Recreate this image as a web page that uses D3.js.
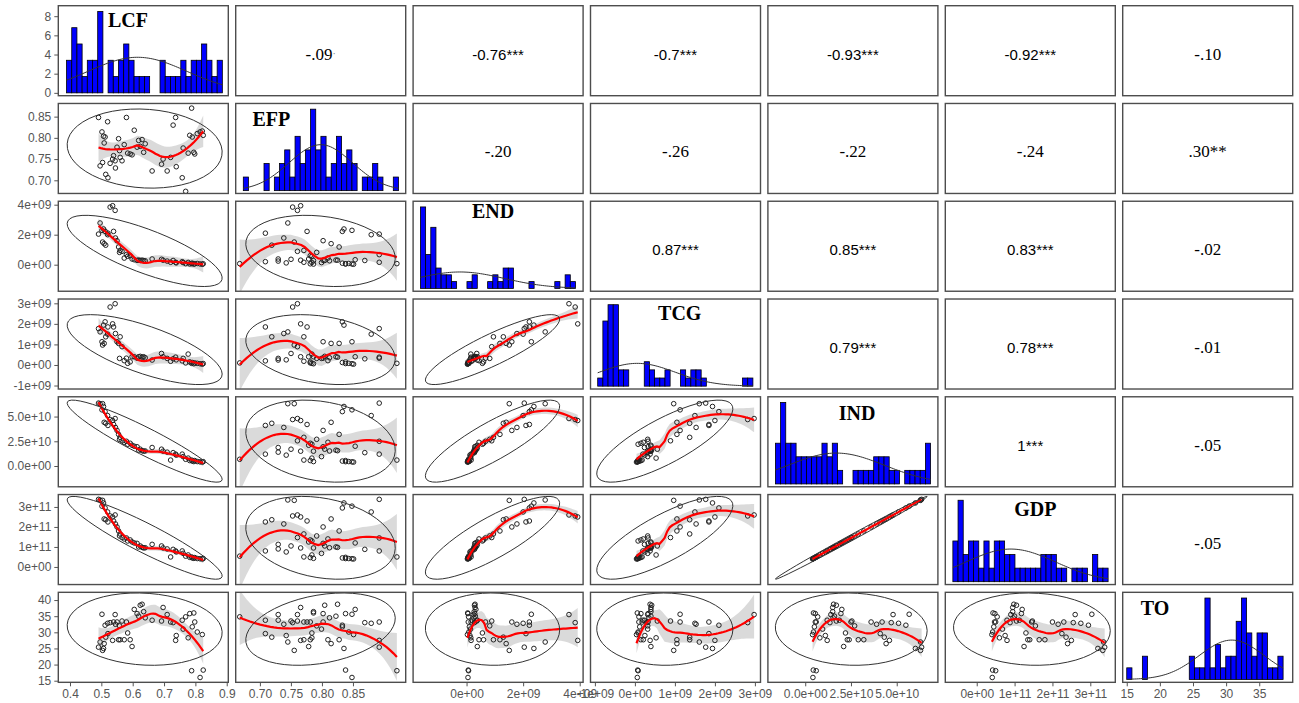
<!DOCTYPE html>
<html>
<head>
<meta charset="utf-8">
<script src="https://cdn.jsdelivr.net/npm/d3@7"></script>
<style>
  body { margin: 0; background: #fff; }
  svg { display: block; }
  .tick text { font-family: "Liberation Sans", Arial, sans-serif; font-size: 12px; fill: #555; }
  .tick line { stroke: #555; }
</style>
</head>
<body>
<svg id="chart"></svg>
<script>
const vars = ['LCF', 'EFP', 'END', 'TCG', 'IND', 'GDP', 'TO'];

// one value per year, rows sorted by LCF
const LCF = [0.491, 0.496, 0.502, 0.504, 0.507, 0.509, 0.512, 0.514, 0.520, 0.521,
  0.528, 0.536, 0.539, 0.544, 0.545, 0.550, 0.555, 0.558, 0.560, 0.566,
  0.573, 0.580, 0.584, 0.592, 0.598, 0.605, 0.614, 0.619, 0.624, 0.630,
  0.635, 0.640, 0.662, 0.692, 0.697, 0.710, 0.721, 0.729, 0.737, 0.739,
  0.758, 0.761, 0.769, 0.777, 0.782, 0.788, 0.790, 0.795, 0.798, 0.806, 0.815, 0.822, 0.825];
const EFP = [0.848, 0.734, 0.814, 0.742, 0.804, 0.788, 0.802, 0.714, 0.838, 0.706,
  0.740, 0.750, 0.758, 0.746, 0.729, 0.778, 0.798, 0.770, 0.754, 0.746,
  0.784, 0.848, 0.764, 0.762, 0.760, 0.818, 0.778, 0.794, 0.780, 0.796,
  0.766, 0.786, 0.722, 0.738, 0.750, 0.722, 0.754, 0.830, 0.848, 0.732,
  0.706, 0.776, 0.674, 0.764, 0.806, 0.870, 0.802, 0.766, 0.762, 0.810, 0.814, 0.816, 0.806];
const END = [2.04e9, 2.78e9, 2.29e9, 1.51e9, 2.38e9, 1.40e9, 2.22e9, 1.30e9, 2.00e9, 2.10e9,
  3.84e9, 3.93e9, 2.22e9, 3.62e9, 1.78e9, 1.60e9, 1.18e9, 0.82e9, 0.95e9, 0.89e9,
  0.44e9, 0.67e9, 0.56e9, 0.60e9, 0.38e9, 0.33e9, 0.29e9, 0.31e9, 0.28e9, 0.30e9,
  0.27e9, 0.26e9, 0.38e9, 0.36e9, 0.30e9, 0.24e9, 0.16e9, 0.28e9, 0.16e9, 0.12e9,
  0.20e9, 0.14e9, 0.07e9, 0.15e9, 0.05e9, 0.07e9, 0.10e9, 0.04e9, 0.06e9, 0.08e9, 0.05e9, 0.03e9, 0.06e9];
const TCG = [1.77e9, 1.61e9, 1.13e9, 0.97e9, 1.94e9, 1.05e9, 2.10e9, 1.37e9, 1.50e9, 1.85e9,
  2.82e9, 2.00e9, 1.85e9, 2.98e9, 1.53e9, 1.13e9, 1.05e9, 0.32e9, 1.37e9, 0.89e9,
  0.21e9, 0.33e9, 0.08e9, 0.15e9, 0.40e9, 0.40e9, 0.33e9, 0.40e9, 0.42e9, 0.38e9,
  0.40e9, 0.35e9, 0.24e9, 0.56e9, 0.40e9, 0.32e9, 0.18e9, 0.30e9, 0.38e9, 0.25e9,
  0.20e9, 0.32e9, 0.10e9, 0.53e9, 0.15e9, 0.08e9, 0.12e9, 0.06e9, 0.10e9, 0.08e9, 0.06e9, 0.04e9, 0.07e9];
const IND = [6.36e10, 6.30e10, 5.68e10, 6.30e10, 6.02e10, 4.42e10, 5.50e10, 4.32e10, 5.10e10, 4.10e10,
  4.70e10, 4.60e10, 4.20e10, 4.80e10, 3.90e10, 3.60e10, 3.20e10, 2.70e10, 2.90e10, 2.55e10,
  2.40e10, 2.50e10, 2.20e10, 2.30e10, 2.10e10, 2.00e10, 1.95e10, 1.60e10, 1.70e10, 1.55e10,
  1.50e10, 1.52e10, 1.87e10, 1.70e10, 1.50e10, 1.40e10, 0.60e10, 1.35e10, 1.20e10, 1.10e10,
  1.20e10, 0.95e10, 0.68e10, 0.80e10, 0.55e10, 0.60e10, 0.50e10, 0.45e10, 0.55e10, 0.45e10, 0.42e10, 0.40e10, 0.44e10];
const GDP = [3.38e11, 3.35e11, 3.04e11, 3.33e11, 3.20e11, 2.40e11, 2.95e11, 2.36e11, 2.75e11, 2.25e11,
  2.55e11, 2.50e11, 2.30e11, 2.60e11, 2.15e11, 2.00e11, 1.80e11, 1.55e11, 1.65e11, 1.47e11,
  1.40e11, 1.45e11, 1.30e11, 1.35e11, 1.25e11, 1.20e11, 1.18e11, 1.00e11, 1.05e11, 0.98e11,
  0.95e11, 0.96e11, 1.13e11, 1.05e11, 0.95e11, 0.90e11, 0.50e11, 0.88e11, 0.80e11, 0.75e11,
  0.80e11, 0.68e11, 0.54e11, 0.60e11, 0.48e11, 0.50e11, 0.45e11, 0.43e11, 0.47e11, 0.42e11, 0.41e11, 0.40e11, 0.42e11];
const TO = [25.4, 27.0, 35.6, 24.4, 25.0, 26.5, 32.2, 28.5, 32.8, 29.6,
  33.0, 27.5, 33.2, 35.5, 32.5, 33.2, 27.7, 32.0, 27.7, 33.5,
  27.7, 33.2, 29.8, 27.7, 25.6, 37.1, 35.8, 35.0, 38.4, 38.7,
  36.4, 34.5, 33.75, 33.5, 37.7, 35.5, 33.2, 33.0, 27.5, 29.0,
  33.75, 31.0, 34.8, 28.3, 35.8, 18.1, 31.7, 36.0, 33.2, 30.1, 16.0, 29.3, 18.3];
const series = [LCF, EFP, END, TCG, IND, GDP, TO];

// diagonal histograms: LCF as density, the others as counts
const histLCF = [3.4, 6.8, 5.1, 1.7, 3.4, 3.4, 8.5, 0, 3.4, 1.7, 3.4, 5.1, 3.4, 1.7, 1.7,
  1.7, 0, 0, 3.4, 1.7, 1.7, 1.7, 3.4, 1.7, 3.4, 3.4, 5.1, 3.4, 1.7, 3.4];
const histEFP = [1, 0, 0, 0, 2, 0, 1, 2, 3, 1, 4, 2, 3, 6, 3, 4, 1, 2, 4, 2, 3, 2, 0, 1, 1, 2, 1, 0, 0, 1];
const histEND = [12, 5, 9, 3, 2, 2, 1, 0, 0, 1, 2, 0, 0, 1, 2, 1, 3, 3, 0, 0, 0, 1, 0, 0, 0, 0, 1, 0, 2, 1];
const histTCG = [1, 8, 10, 10, 2, 2, 0, 0, 0, 3, 2, 1, 1, 2, 0, 0, 2, 1, 2, 2, 1, 0, 0, 0, 0, 0, 0, 0, 1, 1];
const histIND = [3, 6, 3, 3, 2, 2, 2, 2, 2, 3, 2, 3, 1, 0, 0, 1, 1, 1, 1, 2, 2, 2, 1, 1, 0, 1, 1, 1, 1, 3];
const histGDP = [3, 6, 2, 3, 3, 1, 3, 1, 3, 3, 2, 2, 1, 1, 1, 1, 1, 2, 2, 2, 1, 1, 0, 1, 1, 1, 0, 2, 1, 1];
const histTO = [1, 0, 0, 2, 0, 0, 0, 0, 0, 0, 0, 0, 2, 1, 1, 7, 1, 3, 1, 2, 2, 5, 7, 4, 2, 4, 4, 1, 1, 2];
const histBins = [histLCF, histEFP, histEND, histTCG, histIND, histGDP, histTO];
const histRanges = [[0.389, 0.886], [0.6785, 0.872], [-1.63e9, 3.85e9], [-0.93e9, 2.95e9],
  [-1.63e10, 6.85e10], [-0.63e11, 3.47e11], [15.0, 38.6]];

// axis ranges
const xDomains = [[0.3627, 0.905], [0.669, 0.881], [-1.89e9, 4.12e9], [-1.11e9, 3.14e9],
  [-2.04e10, 7.25e10], [-0.83e11, 3.66e11], [14.39, 40.05]];
const yDomains = [null, [0.669, 0.881], [-1.77e9, 4.23e9], [-1.17e9, 3.21e9],
  [-2.1e10, 7.0e10], [-0.88e11, 3.62e11], [14.5, 42.4]];
// the EFP tick labels along the bottom sit on their own spacing
const xAxisDomains = [[0.3627, 0.905], [0.661, 0.935], [-1.89e9, 4.12e9], [-1.11e9, 3.14e9],
  [-2.04e10, 7.25e10], [-0.83e11, 3.66e11], [14.39, 40.05]];
const xTicks = [[0.4, 0.5, 0.6, 0.7, 0.8, 0.9], [0.70, 0.75, 0.80, 0.85], [0, 2e9, 4e9],
  [-1e9, 0, 1e9, 2e9, 3e9], [0, 2.5e10, 5e10], [0, 1e11, 2e11, 3e11], [15, 20, 25, 30, 35]];
const yTicks = [[0, 2, 4, 6, 8], [0.70, 0.75, 0.80, 0.85], [0, 2e9, 4e9],
  [-1e9, 0, 1e9, 2e9, 3e9], [0, 2.5e10, 5e10], [0, 1e11, 2e11, 3e11], [15, 20, 25, 30, 35, 40]];

// upper panels in order (LCF,EFP), (LCF,END) ... (GDP,TO)
const corrR = [-0.09, -0.76, -0.70, -0.93, -0.92, -0.10,
  -0.20, -0.26, -0.22, -0.24, 0.30,
  0.87, 0.85, 0.83, -0.02,
  0.79, 0.78, -0.01,
  0.997, -0.05,
  -0.05];
const corrText = ['-.09', '-0.76', '-0.7', '-0.93', '-0.92', '-.10',
  '-.20', '-.26', '-.22', '-.24', '.30',
  '0.87', '0.85', '0.83', '-.02',
  '0.79', '0.78', '-.01',
  '1', '-.05',
  '-.05'];
const corrStars = ['.', '***', '***', '***', '***', '',
  '', '', '', '', '**',
  '***', '***', '***', '',
  '***', '***', '',
  '***', '',
  ''];

// layout
const size = {w: 1299, h: 703};
const grid = {left: 58.3, top: 5.7, pw: 170, ph: 90, dx: 177.4, dy: 97.77};
const namePos = [[0.41, 21], [0.21, 23], [0.47, 17], [0.525, 21], [0.525, 23], [0.53, 21], [0.19, 23]];
const ELL_K = 2.25;
const sans = '"Liberation Sans", Arial, sans-serif';
const serif = '"Liberation Serif", "Times New Roman", serif';

const sci = dec => v => v.toExponential(dec).replace(/e([+-])(\d)$/, 'e$10$2');
const xFormats = [d3.format('.1f'), d3.format('.2f'), sci(0), sci(0), sci(1), sci(0), d3.format('d')];
const yFormats = [d3.format('d'), d3.format('.2f'), sci(0), sci(0), sci(1), sci(0), d3.format('d')];

const svg = d3.select('#chart').attr('width', size.w).attr('height', size.h);
svg.append('rect').attr('width', size.w).attr('height', size.h).attr('fill', '#fff');
const defs = svg.append('defs');

function invertRow0(m) {
  const [[a, b, c], [d, e, f], [g, h, i]] = m;
  const c0 = e * i - f * h, c1 = -(d * i - f * g), c2 = d * h - e * g;
  const det = a * c0 + b * c1 + c * c2;
  return [c0 / det, -(b * i - c * h) / det, (b * f - c * e) / det];
}

// local quadratic loess with a standard error band
function loess(xs, ys, span) {
  const n = xs.length, q = Math.floor(n * span);
  function weights(x0) {
    const d = xs.map(x => Math.abs(x - x0));
    const h = d.slice().sort((a, b) => a - b)[q - 1] * 1.000001 || 1e-12;
    const w = d.map(v => v < h ? Math.pow(1 - Math.pow(v / h, 3), 3) : 0);
    const u = xs.map(x => (x - x0) / h);
    const A = [[0, 0, 0], [0, 0, 0], [0, 0, 0]];
    for (let k = 0; k < n; k++) {
      const X = [1, u[k], u[k] * u[k]];
      for (let a = 0; a < 3; a++) for (let b = 0; b < 3; b++) A[a][b] += w[k] * X[a] * X[b];
    }
    const r0 = invertRow0(A);
    return u.map((uk, k) => w[k] * (r0[0] + r0[1] * uk + r0[2] * uk * uk));
  }
  let rss = 0, delta = 0;
  xs.forEach((xj, j) => {
    const l = weights(xj);
    const fit = d3.sum(l, (v, k) => v * ys[k]);
    rss += (ys[j] - fit) ** 2;
    l.forEach((v, k) => { const m = (k === j ? 1 : 0) - v; delta += m * m; });
  });
  const s = Math.sqrt(rss / delta);
  const [lo, hi] = d3.extent(xs);
  return d3.range(47).map(i => {
    const x = lo + (hi - lo) * i / 46;
    const l = weights(x);
    const fit = d3.sum(l, (v, k) => v * ys[k]);
    const se = s * Math.sqrt(d3.sum(l, v => v * v));
    return {x, fit, lo: fit - 1.96 * se, hi: fit + 1.96 * se};
  });
}

function ellipse(xm, ym, xsd, ysd, r) {
  const th = (r !== 0 ? Math.sign(r) : 1) / Math.SQRT2;
  const a = Math.sqrt(1 + r), b = Math.sqrt(Math.max(0, 1 - r));
  return d3.range(52).map(s => {
    const t = s * 2 * Math.PI / 51;
    const c = Math.cos(t), sn = Math.sin(t);
    return [xm + ELL_K * xsd * (c * a * th - sn * b * th), ym + ELL_K * ysd * (c * a * th + sn * b * th)];
  });
}

const pairIndex = (i, j) => {
  let k = 0;
  for (let r = 0; r < i; r++) k += vars.length - 1 - r;
  return k + (j - i - 1);
};

const nv = vars.length;
for (let i = 0; i < nv; i++) {       // row -> y variable
  for (let j = 0; j < nv; j++) {     // column -> x variable
    const x0 = grid.left + j * grid.dx, y0 = grid.top + i * grid.dy;
    const g = svg.append('g');
    const clipId = `clip-${i}-${j}`;
    defs.append('clipPath').attr('id', clipId)
      .append('rect').attr('x', x0).attr('y', y0).attr('width', grid.pw).attr('height', grid.ph);
    const inner = g.append('g').attr('clip-path', `url(#${clipId})`);
    const x = d3.scaleLinear().domain(xDomains[j]).range([x0, x0 + grid.pw]);
    let y = null;

    if (i === j) {
      const bins = histBins[i];
      const [hlo, hhi] = histRanges[i];
      const bw = (hhi - hlo) / bins.length;
      const hmax = d3.max(bins);
      y = d3.scaleLinear().domain([-0.035 * hmax, 1.07 * hmax]).range([y0 + grid.ph, y0]);
      inner.selectAll('rect.bar').data(bins).join('rect')
        .attr('class', 'bar')
        .attr('x', (d, k) => x(hlo + k * bw))
        .attr('width', x(hlo + bw) - x(hlo))
        .attr('y', d => y(d))
        .attr('height', d => y(0) - y(d))
        .attr('fill', '#0000ff')
        .attr('stroke', '#000')
        .attr('stroke-width', 0.8);
      const mids = bins.map((d, k) => hlo + (k + 0.5) * bw);
      const tot = d3.sum(bins);
      const mu = d3.sum(bins, (d, k) => d * mids[k]) / tot;
      const sd = Math.sqrt(d3.sum(bins, (d, k) => d * (mids[k] - mu) ** 2) / (tot - 1));
      const curve = d3.range(81).map(k => {
        const xv = hlo + (hhi - hlo) * k / 80;
        return [xv, tot * bw * Math.exp(-0.5 * ((xv - mu) / sd) ** 2) / (sd * Math.sqrt(2 * Math.PI))];
      });
      inner.append('path')
        .attr('d', d3.line().x(d => x(d[0])).y(d => y(d[1]))(curve))
        .attr('fill', 'none').attr('stroke', '#333').attr('stroke-width', 1);
      g.append('text')
        .attr('x', x0 + namePos[i][0] * grid.pw).attr('y', y0 + namePos[i][1])
        .attr('text-anchor', 'middle')
        .attr('font-family', serif).attr('font-weight', 'bold').attr('font-size', 20)
        .text(vars[i]);
    } else if (i > j) {
      y = d3.scaleLinear().domain(yDomains[i]).range([y0 + grid.ph, y0]);
      const xs = series[j], ys = series[i];
      const fit = loess(xs, ys, 0.75);
      inner.append('path')
        .attr('d', d3.area().x(d => x(d.x)).y0(d => y(d.lo)).y1(d => y(d.hi))(fit))
        .attr('fill', '#d3d3d3').attr('fill-opacity', 0.85);
      inner.selectAll('circle').data(xs).join('circle')
        .attr('cx', d => x(d))
        .attr('cy', (d, k) => y(ys[k]))
        .attr('r', 2.3)
        .attr('fill', 'none')
        .attr('stroke', '#222')
        .attr('stroke-width', 1);
      inner.append('path')
        .attr('d', d3.line().x(d => x(d.x)).y(d => y(d.fit))(fit))
        .attr('fill', 'none').attr('stroke', '#ff0000').attr('stroke-width', 2.2);
      const ell = ellipse(d3.mean(xs), d3.mean(ys), d3.deviation(xs), d3.deviation(ys), corrR[pairIndex(j, i)]);
      inner.append('path')
        .attr('d', d3.line().x(d => x(d[0])).y(d => y(d[1]))(ell))
        .attr('fill', 'none').attr('stroke', '#333').attr('stroke-width', 1);
    } else {
      const k = pairIndex(i, j);
      const isSerif = corrText[k].startsWith('.') || corrText[k].startsWith('-.');
      const t = g.append('text')
        .attr('x', x0 + grid.pw / 2).attr('y', y0 + grid.ph / 2 + 9)
        .attr('text-anchor', 'middle')
        .attr('font-family', isSerif ? serif : sans)
        .attr('font-size', isSerif ? 17 : 15)
        .attr('fill', '#000');
      t.append('tspan').text(corrText[k]);
      if (corrStars[k] === '.') {
        t.append('tspan').attr('font-size', 10).attr('dy', -3).attr('fill', '#777').text('\u00b7');
      } else if (corrStars[k]) {
        t.append('tspan').text(corrStars[k]);
      }
    }

    // axes on the outer edge only
    if (j === 0) {
      const ys = i === 0 ? y : d3.scaleLinear().domain(yDomains[i]).range([y0 + grid.ph, y0]);
      const ax = g.append('g').attr('transform', `translate(${x0},0)`)
        .call(d3.axisLeft(ys).tickValues(yTicks[i]).tickFormat(yFormats[i]).tickSize(4).tickPadding(3));
      ax.select('.domain').remove();
    }
    if (i === nv - 1) {
      const xa = d3.scaleLinear().domain(xAxisDomains[j]).range([x0, x0 + grid.pw]);
      const ax = g.append('g').attr('transform', `translate(0,${y0 + grid.ph})`)
        .call(d3.axisBottom(xa).tickValues(xTicks[j]).tickFormat(xFormats[j]).tickSize(4).tickPadding(3));
      ax.select('.domain').remove();
    }

    g.append('rect')
      .attr('x', x0).attr('y', y0).attr('width', grid.pw).attr('height', grid.ph)
      .attr('fill', 'none').attr('stroke', '#4d4d4d').attr('stroke-width', 1.4);
  }
}
</script>
</body>
</html>
